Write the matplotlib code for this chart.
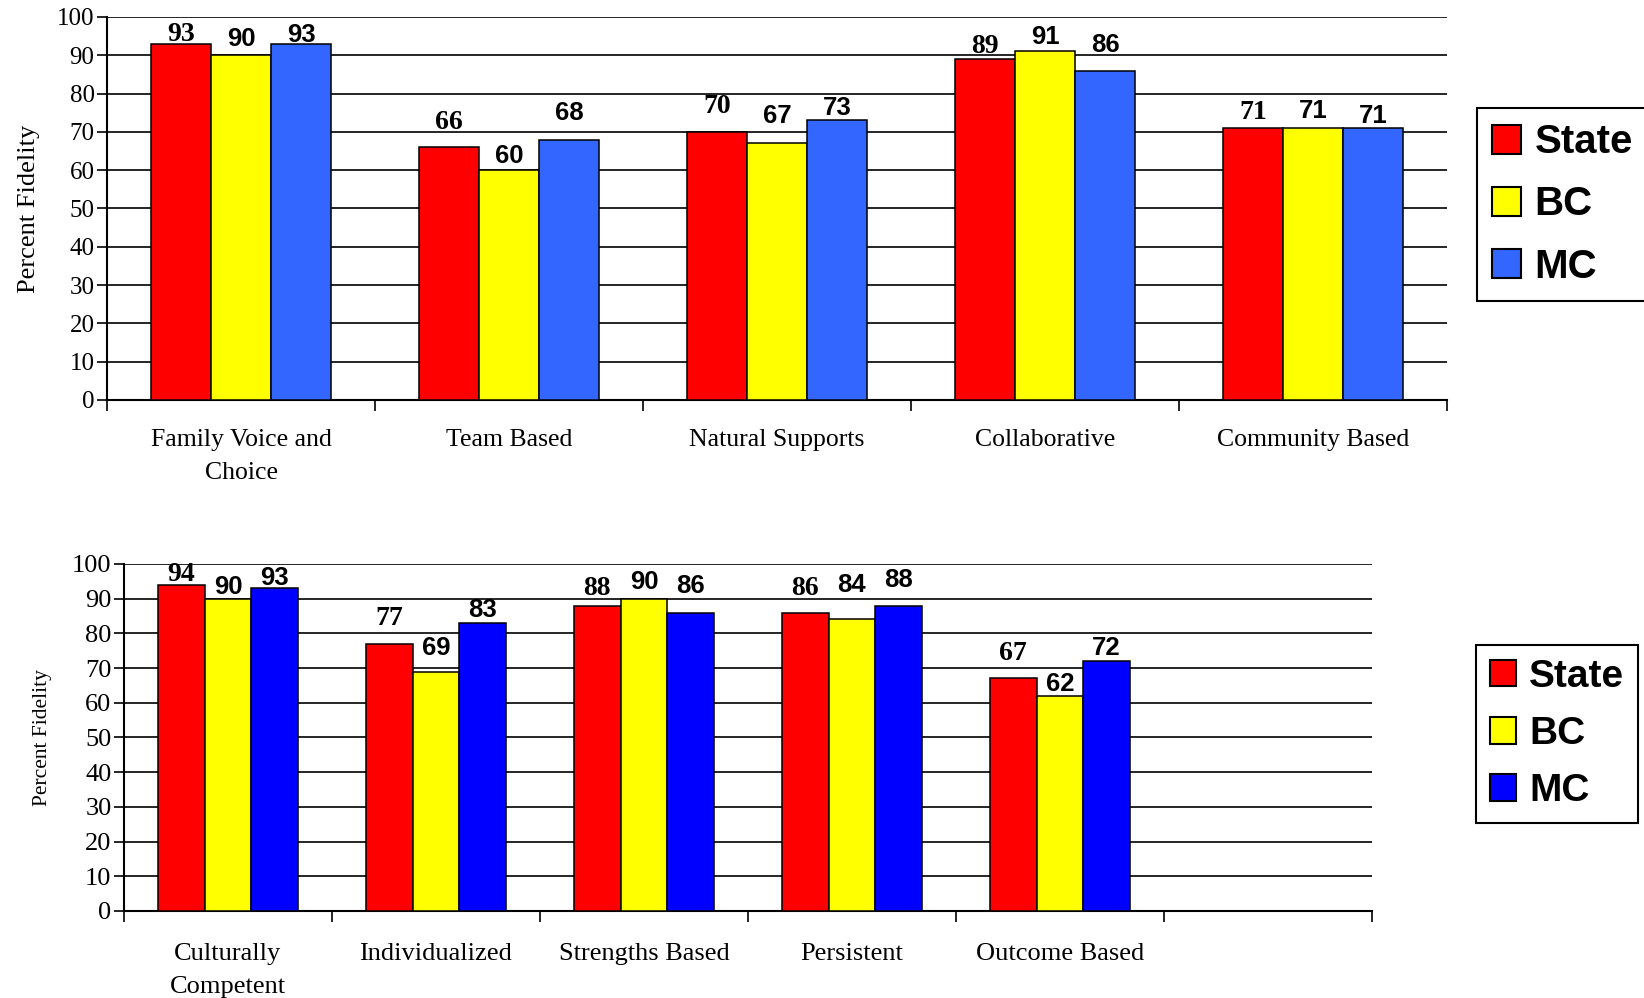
import matplotlib
matplotlib.use('Agg')
import matplotlib.pyplot as plt
from matplotlib.font_manager import FontProperties
import numpy as np

# ---------------- data ----------------
series = ['State', 'BC', 'MC']
y_ticks = list(range(0, 101, 10))

top_categories = ['Family Voice and\nChoice', 'Team Based', 'Natural Supports',
                  'Collaborative', 'Community Based']
top_state = [93, 66, 70, 89, 71]
top_bc = [90, 60, 67, 91, 71]
top_mc = [93, 68, 73, 86, 71]

bottom_categories = ['Culturally\nCompetent', 'Individualized', 'Strengths Based',
                     'Persistent', 'Outcome Based']
bottom_state = [94, 77, 88, 86, 67]
bottom_bc = [90, 69, 90, 84, 62]
bottom_mc = [93, 83, 86, 88, 72]

# ---------------- styles ----------------
top_colors = ['#FF0000', '#FFFF00', '#3366FF']
bottom_colors = ['#FF0000', '#FFFF00', '#0000FF']
# value-label gaps above bars (pixels), cosmetic
top_gaps = [[3, 18, 19, 6, 9], [9, 7, 20, 7, 10], [2, 20, 5, 19, 5]]
bottom_gaps = [[4, 19, 11, 18, 18], [5, 17, 10, 27, 5], [3, 6, 20, 19, 6]]

SERIF = 'Liberation Serif'
SANS = 'Liberation Sans'

fig = plt.figure(figsize=(16.44, 9.98), dpi=100)


def draw(ax, cats, data, colors, nslots, gaps, tick_size, cat_size, cat_pad_px,
         ylabel_size, ylabel_x, leg_anchor, leg_size, leg_hsize, leg_spacing, leg_pad):
    x = np.arange(len(cats))
    w = 0.224
    handles = []
    for i, vals in enumerate(data):
        b = ax.bar(x + (i - 1) * w, vals, w, color=colors[i], edgecolor='black',
                   linewidth=1.1, zorder=3, label=series[i])
        handles.append(b)
        fam = SERIF if i == 0 else SANS
        size = 20 if i == 0 else 18.5
        for xi, v, g in zip(x, vals, gaps[i]):
            ax.annotate(str(v), xy=(xi + (i - 1) * w, v), xytext=(0, g),
                        textcoords='offset pixels', ha='center', va='baseline',
                        fontsize=size, fontweight='bold', family=fam, zorder=4,
                        annotation_clip=False)
    ax.set_xlim(-0.5, nslots - 0.5)
    ax.set_ylim(0, 100)
    ax.set_yticks(y_ticks)
    ax.set_yticklabels([str(t) for t in y_ticks], family=SERIF, fontsize=tick_size)
    ax.set_xticks(np.arange(-0.5, nslots, 1.0))
    ax.set_xticklabels([])
    # category labels under each group
    for xi, c in zip(x, cats):
        ax.annotate(c, xy=(xi, 0), xycoords=('data', 'axes fraction'),
                    xytext=(0, -cat_pad_px), textcoords='offset pixels',
                    ha='center', va='top', family=SERIF, fontsize=cat_size,
                    linespacing=1.65, annotation_clip=False)
    ax.tick_params(axis='x', which='major', direction='out', length=8, width=1.2)
    ax.tick_params(axis='y', direction='out', length=7, width=1.2, pad=2)
    ax.yaxis.grid(True, color='black', linewidth=1.2, zorder=0)
    ax.set_axisbelow(True)
    for s in ['top', 'right']:
        ax.spines[s].set_visible(False)
    for s in ['left', 'bottom']:
        ax.spines[s].set_linewidth(1.5)
    ax.set_ylabel('Percent Fidelity', family=SERIF, fontsize=ylabel_size)
    ax.yaxis.set_label_coords(ylabel_x, 0.5)
    leg = ax.legend(handles=handles, labels=series, loc='upper left',
                    bbox_to_anchor=leg_anchor, bbox_transform=fig.transFigure,
                    prop=FontProperties(family=SANS, weight='bold', size=leg_size),
                    frameon=True, fancybox=False, framealpha=1, edgecolor='black',
                    handlelength=leg_hsize, handleheight=leg_hsize,
                    handletextpad=0.33, labelspacing=leg_spacing,
                    borderpad=leg_pad, borderaxespad=0)
    leg.get_frame().set_linewidth(1.5)
    for p in leg.get_patches():
        p.set_edgecolor('black')
        p.set_linewidth(1.5)


ax1 = fig.add_axes([0.0651, 0.5992, 0.8151, 0.3838])
draw(ax1, top_categories, [top_state, top_bc, top_mc], top_colors, 5, top_gaps,
     18, 18.5, 29, 19, -0.050, (0.8984, 0.8918), 29, 0.72, 0.6, 0.38)

ax2 = fig.add_axes([0.0754, 0.0872, 0.7591, 0.3477])
draw(ax2, bottom_categories, [bottom_state, bottom_bc, bottom_mc], bottom_colors, 6,
     bottom_gaps, 19, 19, 32, 15.5, -0.058, (0.8978, 0.3537), 28, 0.69, 0.55, 0.35)

fig.savefig('out.png', dpi=100)
